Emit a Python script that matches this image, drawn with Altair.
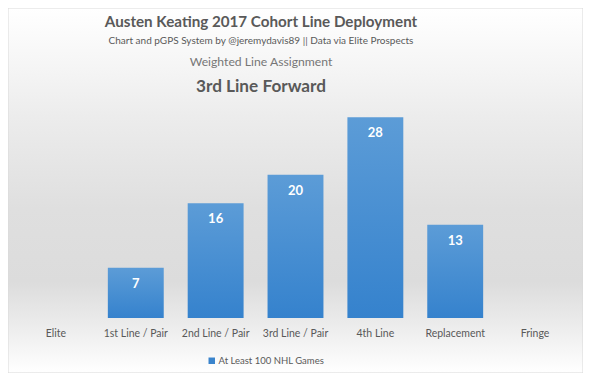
import altair as alt
import pandas as pd

categories = ["Elite", "1st Line / Pair", "2nd Line / Pair", "3rd Line / Pair",
              "4th Line", "Replacement", "Fringe"]
values = [None, 7, 16, 20, 28, 13, None]
series_name = "At Least 100 NHL Games"

title_main = "Austen Keating 2017 Cohort Line Deployment"
title_sub = "Chart and pGPS System by @jeremydavis89 || Data via Elite Prospects"
title_assign = "Weighted Line Assignment"
title_result = "3rd Line Forward"

FONT = "Lato"
W, H = 559, 215

df = pd.DataFrame({"category": categories, "value": values, "series": series_name})

bg_grad = alt.LinearGradient(
    gradient="linear", x1=0, x2=0, y1=0, y2=1,
    stops=[
        alt.GradientStop(offset=0.0, color="#ffffff"),
        alt.GradientStop(offset=0.15, color="#f6f6f6"),
        alt.GradientStop(offset=0.30, color="#ececec"),
        alt.GradientStop(offset=0.55, color="#dfdfdf"),
        alt.GradientStop(offset=0.75, color="#dcdcdc"),
        alt.GradientStop(offset=0.87, color="#ececec"),
        alt.GradientStop(offset=1.0, color="#ffffff"),
    ],
)
bar_grad = alt.LinearGradient(
    gradient="linear", x1=0, x2=0, y1=0, y2=1,
    stops=[
        alt.GradientStop(offset=0.0, color="#5c9cd7"),
        alt.GradientStop(offset=1.0, color="#3582cd"),
    ],
)

base = alt.Chart(df)

background = alt.Chart(pd.DataFrame({"k": [0]})).mark_rect(
    fill=bg_grad, stroke="#d9d9d9", strokeWidth=1
).encode(
    x=alt.value(-8), x2=alt.value(W + 8), y=alt.value(-95), y2=alt.value(H + 55)
)

xenc = alt.X("category:N", sort=categories, title=None,
             scale=alt.Scale(paddingInner=0.3, paddingOuter=0.15),
             axis=alt.Axis(domain=False, ticks=False, labelAngle=0, labelPadding=10,
                           zindex=1, labelFont=FONT, labelFontSize=10.5,
                           labelColor="#595959"))
yenc = alt.Y("value:Q", scale=alt.Scale(domain=[0, 30]), axis=None)

bars = base.mark_bar(fill=bar_grad).encode(x=xenc, y=yenc)

labels = base.mark_text(
    font=FONT, fontSize=13, fontWeight="bold", color="white", baseline="middle", dy=16
).encode(x=xenc, y=yenc, text=alt.Text("value:Q"))

legend_layer = base.mark_square(opacity=0).encode(
    x=xenc,
    color=alt.Color("series:N", scale=alt.Scale(domain=[series_name], range=["#3a84cc"]),
                    legend=alt.Legend(title=None, orient="none", legendX=191, legendY=253,
                                      symbolType="square", symbolSize=42, symbolOpacity=1,
                                      labelFont=FONT, labelFontSize=9.5, labelColor="#595959",
                                      padding=0, labelOffset=2, zindex=1)),
)


def text_line(txt, y, size, weight, color):
    return alt.Chart(pd.DataFrame({"t": [txt]})).mark_text(
        font=FONT, fontSize=size, fontWeight=weight, color=color,
        align="center", baseline="alphabetic"
    ).encode(x=alt.value(245), y=alt.value(y), text="t:N")


t1 = text_line(title_main, -76, 15.2, "bold", "#595959")
t2 = text_line(title_sub, -59.5, 10, "normal", "#595959")
t3 = text_line(title_assign, -37, 12.2, "normal", "#767676")
t4 = text_line(title_result, -11, 17.2, "bold", "#595959")

chart = alt.layer(background, bars, labels, legend_layer, t1, t2, t3, t4).properties(
    width=W, height=H,
    autosize=alt.AutoSizeParams(type="none"),
    padding={"left": 8, "right": 8, "top": 95, "bottom": 55},
    background="white",
).configure_view(stroke=None)

chart.save("out.html", embed_options={"renderer": "svg", "actions": False})
